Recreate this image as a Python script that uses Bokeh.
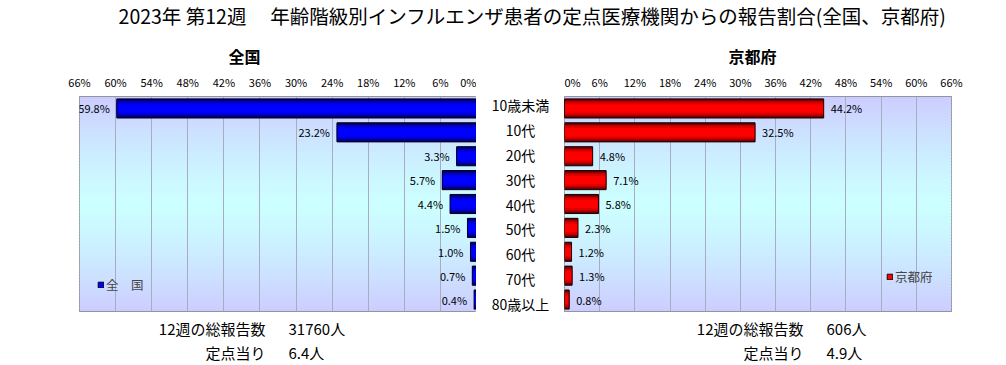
from bokeh.plotting import figure
from bokeh.models import (Range1d, FactorRange, FixedTicker, PrintfTickFormatter,
                          ColumnDataSource, Legend, LegendItem, Label)
from bokeh.layouts import column, row
from bokeh.embed import file_html
from bokeh.resources import INLINE
from bokeh.core.properties import value

# ---------------- data ----------------
categories = ["10歳未満", "10代", "20代", "30代", "40代", "50代", "60代", "70代", "80歳以上"]
national = [59.8, 23.2, 3.3, 5.7, 4.4, 1.5, 1.0, 0.7, 0.4]
kyoto = [44.2, 32.5, 4.8, 7.1, 5.8, 2.3, 1.2, 1.3, 0.8]
tick_values = [0, 6, 12, 18, 24, 30, 36, 42, 48, 54, 60, 66]
axis_max = 66
main_title = "2023年 第12週　 年齢階級別インフルエンザ患者の定点医療機関からの報告割合(全国、京都府)"
panel_titles = ["全国", "京都府"]
legend_labels = ["全　国", "京都府"]
week = 12
total_reports = [31760, 606]
per_site = [6.4, 4.9]

FONT = "Noto Sans CJK JP"
N = len(categories)
FRAME_TOP = 92
TOP = 54
BOT = 5
FRAME_H = 219
PANEL_H = TOP + FRAME_H + BOT
W = 1006


def lerp(c1, c2, t):
    return "#%02x%02x%02x" % tuple(int(round(a + (b - a) * t)) for a, b in zip(c1, c2))


def background(p):
    edge = (204, 204, 255)
    mid = (204, 255, 255)
    nb = 70
    step = N / nb
    bottoms, tops, colors = [], [], []
    for i in range(nb):
        b = i * step
        t = abs((b + step / 2) - N / 2) / (N / 2)
        bottoms.append(b)
        tops.append(min(N, b + step * 1.6))
        colors.append(lerp(mid, edge, t ** 1.3))
    p.quad(left=0, right=axis_max, bottom=bottoms, top=tops, fill_color=colors,
           line_color=None, level="image")


def panel(vals, x_range, side, dark, layers, title, offset, legend_label, legend_loc, legend_fill):
    common = dict(height=PANEL_H, output_backend="svg", toolbar_location=None,
                  x_range=x_range, y_range=FactorRange(factors=categories[::-1]),
                  x_axis_location="above", y_axis_location=None,
                  min_border_top=TOP, min_border_bottom=BOT)
    if side == "left":
        p = figure(width=476, min_border_left=79, min_border_right=0, **common)
    else:
        p = figure(width=W - 564, min_border_left=0, min_border_right=W - 951, **common)
    p.outline_line_color = "#808080"
    p.background_fill_color = "#ccccff"
    p.border_fill_color = "white"
    background(p)
    p.ygrid.grid_line_color = None
    p.xgrid.ticker = FixedTicker(ticks=tick_values)
    p.xgrid.grid_line_color = "#a8acc0"
    ax = p.xaxis[0]
    ax.ticker = FixedTicker(ticks=tick_values)
    ax.formatter = PrintfTickFormatter(format="%d%%")
    ax.axis_line_color = None
    ax.major_tick_line_color = None
    ax.major_tick_out = 0
    ax.major_tick_in = 0
    ax.minor_tick_line_color = None
    ax.minor_tick_out = 0
    ax.major_label_standoff = 7
    ax.major_label_text_font = FONT
    ax.major_label_text_font_size = "11px"
    ax.major_label_text_color = "black"

    src = ColumnDataSource(dict(cat=categories, v=vals, lab=["%.1f%%" % x for x in vals]))
    for h, col in layers:
        p.hbar(y="cat", left=0, right="v", height=h, fill_color=col, line_color=None, source=src)
    p.hbar(y="cat", left=0, right="v", height=0.8, fill_color=None, line_color=dark,
           line_width=1, source=src)
    if side == "left":
        p.text(x="v", y="cat", text="lab", source=src, text_align="right", x_offset=-7,
               text_baseline="middle", text_font=value(FONT), text_font_size="11px",
               text_color="black")
    else:
        p.text(x="v", y="cat", text="lab", source=src, text_align="left", x_offset=7,
               text_baseline="middle", text_font=value(FONT), text_font_size="11px",
               text_color="black")

    # legend key: zero-length bar at the axis origin (hidden under the first bar's outline)
    key = p.hbar(y=[categories[0]], right=[0], left=0, height=0.8, fill_color=legend_fill,
                 line_color=dark, line_width=1)
    leg = Legend(items=[LegendItem(label=legend_label, renderers=[key])],
                 location=legend_loc, glyph_width=7, glyph_height=7, label_standoff=2,
                 label_text_font=FONT, label_text_font_size="12.5px", padding=0, margin=0,
                 border_line_color=None, background_fill_alpha=0, label_height=14)
    p.add_layout(leg)

    p.title.text = title
    p.title.align = "left"
    p.title.offset = offset
    p.title.standoff = 6
    p.title.text_font = FONT
    p.title.text_font_size = "16px"
    p.title.text_font_style = "bold"
    p.title.text_color = "black"
    return p


blue_layers = [(0.8, "#000040"), (0.72, "#000080"), (0.62, "#0000b8"), (0.5, "#0000e0"), (0.34, "#0000ff")]
red_layers = [(0.8, "#400000"), (0.72, "#800000"), (0.62, "#b80000"), (0.5, "#e00000"), (0.34, "#ff0000")]

pL = panel(national, Range1d(axis_max, 0), "left", "#000020", blue_layers, panel_titles[0], 149,
           legend_labels[0], (18, 17), "#0000ff")
pR = panel(kyoto, Range1d(0, axis_max), "right", "#200000", red_layers, panel_titles[1], 164,
           legend_labels[1], (322, 25), "#ff0000")

# middle category labels
pM = figure(width=88, height=PANEL_H, output_backend="svg", toolbar_location=None,
            x_range=Range1d(0, 1), y_range=FactorRange(factors=categories[::-1]),
            x_axis_location=None, y_axis_location=None,
            min_border_left=0, min_border_right=0, min_border_top=TOP, min_border_bottom=0)
pM.frame_align = False
pM.outline_line_color = None
pM.grid.grid_line_color = None
pM.text(x=[0.5] * N, y=categories, text=categories, text_align="center", text_baseline="middle",
        text_font=value(FONT), text_font_size="14px", text_color="black")

# header (main title)
HEAD_H = FRAME_TOP - TOP
pH = figure(width=W, height=HEAD_H, output_backend="svg", toolbar_location=None,
            x_range=Range1d(0, W), y_range=Range1d(0, HEAD_H),
            x_axis_location=None, y_axis_location=None, min_border=0)
pH.outline_line_color = None
pH.grid.grid_line_color = None
pH.add_layout(Label(x=532, y=HEAD_H - 15, text=main_title, text_align="center",
                    text_baseline="middle", text_font=FONT, text_font_size="19.5px",
                    text_color="black"))

# footer
FOOT_TOP = HEAD_H + PANEL_H
FOOT_H = 365 - FOOT_TOP
pF = figure(width=W, height=FOOT_H, output_backend="svg", toolbar_location=None,
            x_range=Range1d(0, W), y_range=Range1d(0, FOOT_H),
            x_axis_location=None, y_axis_location=None, min_border=0)
pF.outline_line_color = None
pF.grid.grid_line_color = None
lab1 = "%d週の総報告数" % week
lab2 = "定点当り"
vals_txt = [("%d人" % total_reports[0], "%.1f人" % per_site[0]),
            ("%d人" % total_reports[1], "%.1f人" % per_site[1])]
for k, (xl, xv) in enumerate([(265, 288), (803, 826)]):
    for yy, lt, vt in [(FOOT_H - (328 - FOOT_TOP), lab1, vals_txt[k][0]),
                       (FOOT_H - (352 - FOOT_TOP), lab2, vals_txt[k][1])]:
        pF.add_layout(Label(x=xl, y=yy, text=lt, text_align="right", text_baseline="middle",
                            text_font=FONT, text_font_size="15px", text_color="black"))
        pF.add_layout(Label(x=xv, y=yy, text=vt, text_align="left", text_baseline="middle",
                            text_font=FONT, text_font_size="15px", text_color="black"))

layout = column(pH, row(pL, pM, pR), pF)
open("out.html", "w").write(file_html(layout, INLINE))
